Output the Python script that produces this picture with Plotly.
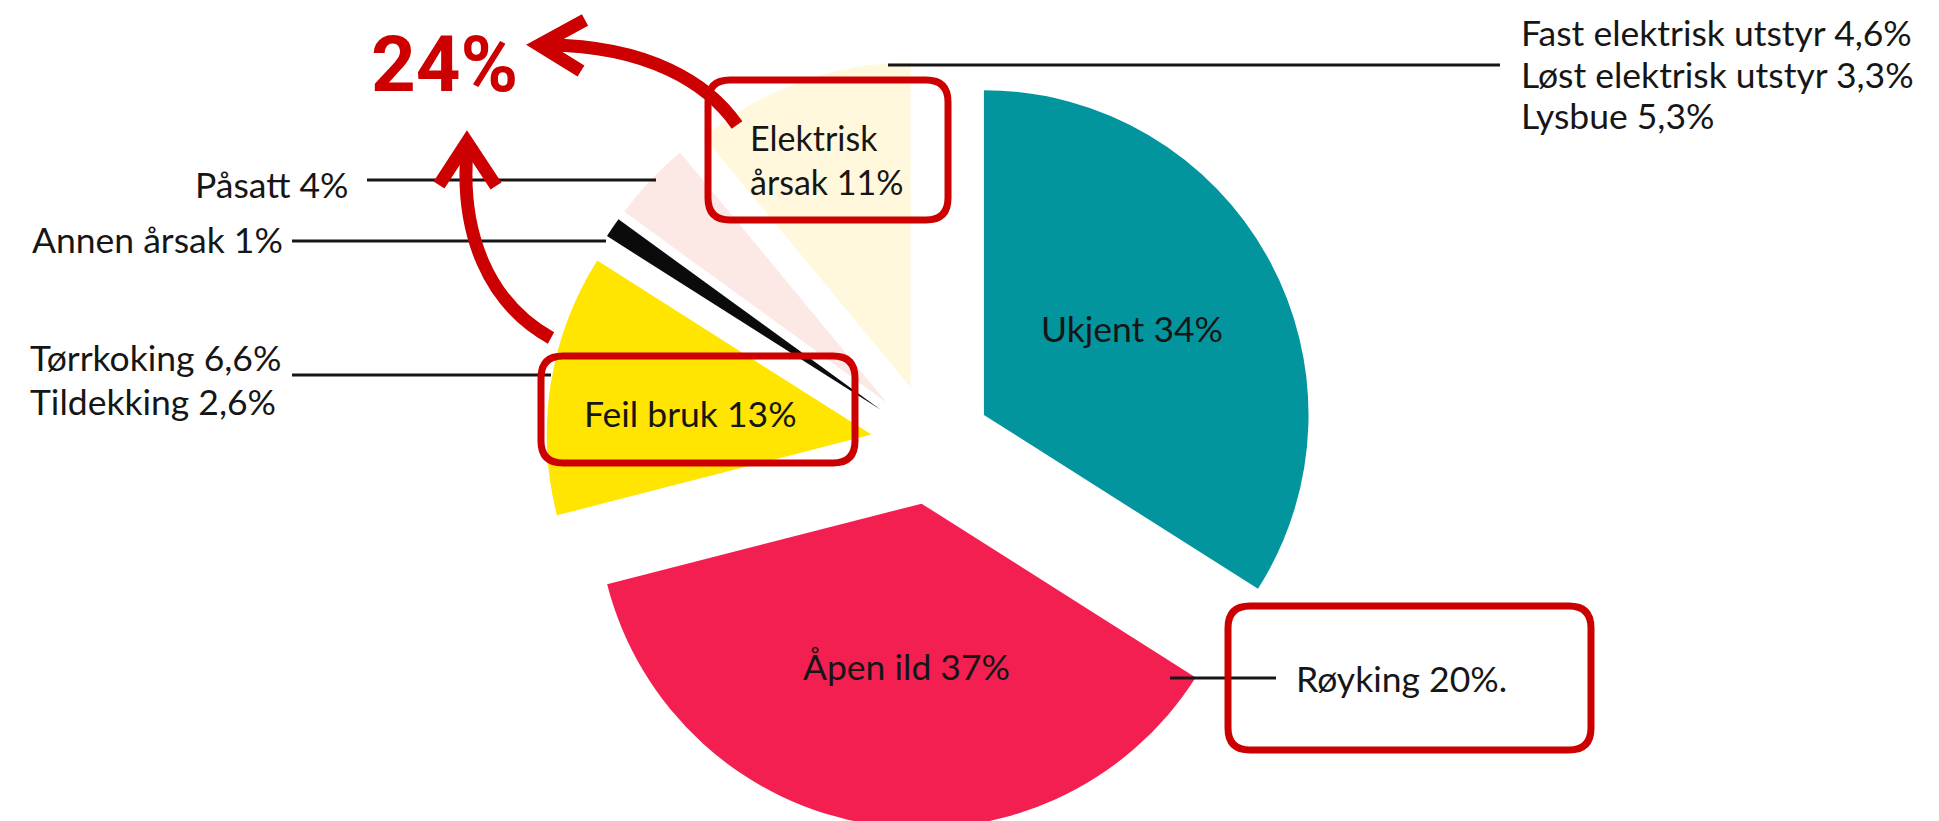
import plotly.graph_objects as go

# ---------------- data ----------------
CATEGORIES = ["Ukjent", "Åpen ild", "Feil bruk", "Annen årsak", "Påsatt", "Elektrisk årsak"]
SHARES = [34, 37, 13, 1, 4, 11]
COLORS = ["#03959D", "#F31F51", "#FFE500", "#0B0B0B", "#FCE9E5", "#FFF8DC"]

INSIDE_LABELS = ["Ukjent 34%", "Åpen ild 37%", "Feil bruk 13%"]
ELEKTRISK_LINES = ["Elektrisk", "årsak 11%"]
PASATT_LABEL = "Påsatt 4%"
ANNEN_LABEL = "Annen årsak 1%"
FEIL_BRUK_LINES = ["Tørrkoking 6,6%", "Tildekking 2,6%"]
ELEKTRISK_DETAIL_LINES = ["Fast elektrisk utstyr 4,6%", "Løst elektrisk utstyr 3,3%", "Lysbue 5,3%"]
ROYKING_LABEL = "Røyking 20%."
HIGHLIGHT = "24%"

# ---------------- layout helpers (pixel -> paper) ----------------
W, H = 1939, 821
def X(px):
    return px / W
def Y(py):
    return 1 - py / H

RED = "#CC0000"
INK = "#161616"
FONT = "Lato, 'Open Sans', sans-serif"
FS = 35.5

fig = go.Figure()
fig.add_trace(go.Pie(
    labels=CATEGORIES, values=SHARES, sort=False, direction="clockwise", rotation=0,
    pull=0.186, textinfo="none", hoverinfo="label+percent",
    marker=dict(colors=COLORS, line=dict(width=0)),
    domain=dict(x=[0.25602, 0.69602], y=[0, (H - 51) / H]),
    showlegend=False,
))

shapes = []
def hline(x0, x1, y, w=3, color=INK):
    shapes.append(dict(type="line", xref="paper", yref="paper",
                       x0=X(x0), x1=X(x1), y0=Y(y), y1=Y(y),
                       line=dict(color=color, width=w)))

def pt(x, y):
    return f"{X(x):.5f},{Y(y):.5f}"

def rrect(x0, y0, x1, y1, r=22, w=7):
    p = (f"M {pt(x0+r,y0)} L {pt(x1-r,y0)} Q {pt(x1,y0)} {pt(x1,y0+r)} "
         f"L {pt(x1,y1-r)} Q {pt(x1,y1)} {pt(x1-r,y1)} L {pt(x0+r,y1)} "
         f"Q {pt(x0,y1)} {pt(x0,y1-r)} L {pt(x0,y0+r)} Q {pt(x0,y0)} {pt(x0+r,y0)} Z")
    shapes.append(dict(type="path", xref="paper", yref="paper", path=p,
                       line=dict(color=RED, width=w), fillcolor="rgba(0,0,0,0)"))

def path(p, w=13):
    shapes.append(dict(type="path", xref="paper", yref="paper", path=p,
                       line=dict(color=RED, width=w), fillcolor="rgba(0,0,0,0)"))

# leader lines
hline(880, 1492, 57)
hline(359, 648, 172)
hline(284, 598, 233)
hline(284, 543, 367)
hline(1162, 1268, 670)

# red rounded boxes
rrect(700, 72, 940, 212)
rrect(533, 348, 847, 455)
rrect(1220, 598, 1583, 742)

# curved arrows
path(f"M {pt(729,117)} C {pt(700,75)} {pt(640,38)} {pt(540,37)}")
path(f"M {pt(577,12)} L {pt(531,37)} L {pt(573,63)}")
path(f"M {pt(543,330)} C {pt(480,295)} {pt(452,225)} {pt(459,142)}")
path(f"M {pt(431,177)} L {pt(459,134)} L {pt(488,178)}")

annotations = []
def text(t, x, y, xanchor="center", size=FS, color=INK, family=FONT, bold=False):
    annotations.append(dict(text=(f"<b>{t}</b>" if bold else t), x=X(x), y=Y(y), xref="paper", yref="paper",
                            xanchor=xanchor, yanchor="middle", showarrow=False, align="left",
                            font=dict(family=family, size=size, color=color)))

text(INSIDE_LABELS[0], 1124, 321)
text(INSIDE_LABELS[1], 898, 658)
text(INSIDE_LABELS[2], 682, 405)
text("<br>".join(ELEKTRISK_LINES), 740, 151, xanchor="left", size=34)
text(PASATT_LABEL, 343, 176, xanchor="right")
text(ANNEN_LABEL, 277, 232, xanchor="right")
for i, t in enumerate(FEIL_BRUK_LINES):
    text(t, 20, 350 + 43 * i, xanchor="left")
for i, t in enumerate(ELEKTRISK_DETAIL_LINES):
    text(t, 1511, 25 + 41.5 * i, xanchor="left")
text(ROYKING_LABEL, 1286, 670, xanchor="left")
text(HIGHLIGHT, 436, 57, size=78, color=RED,
     family="'Liberation Sans Narrow', 'Arial Narrow', Roboto, sans-serif", bold=True)

fig.update_layout(
    width=W, height=H, margin=dict(l=0, r=0, t=0, b=0),
    paper_bgcolor="white", plot_bgcolor="white",
    shapes=shapes, annotations=annotations, showlegend=False,
)
fig.write_html("out.html")
